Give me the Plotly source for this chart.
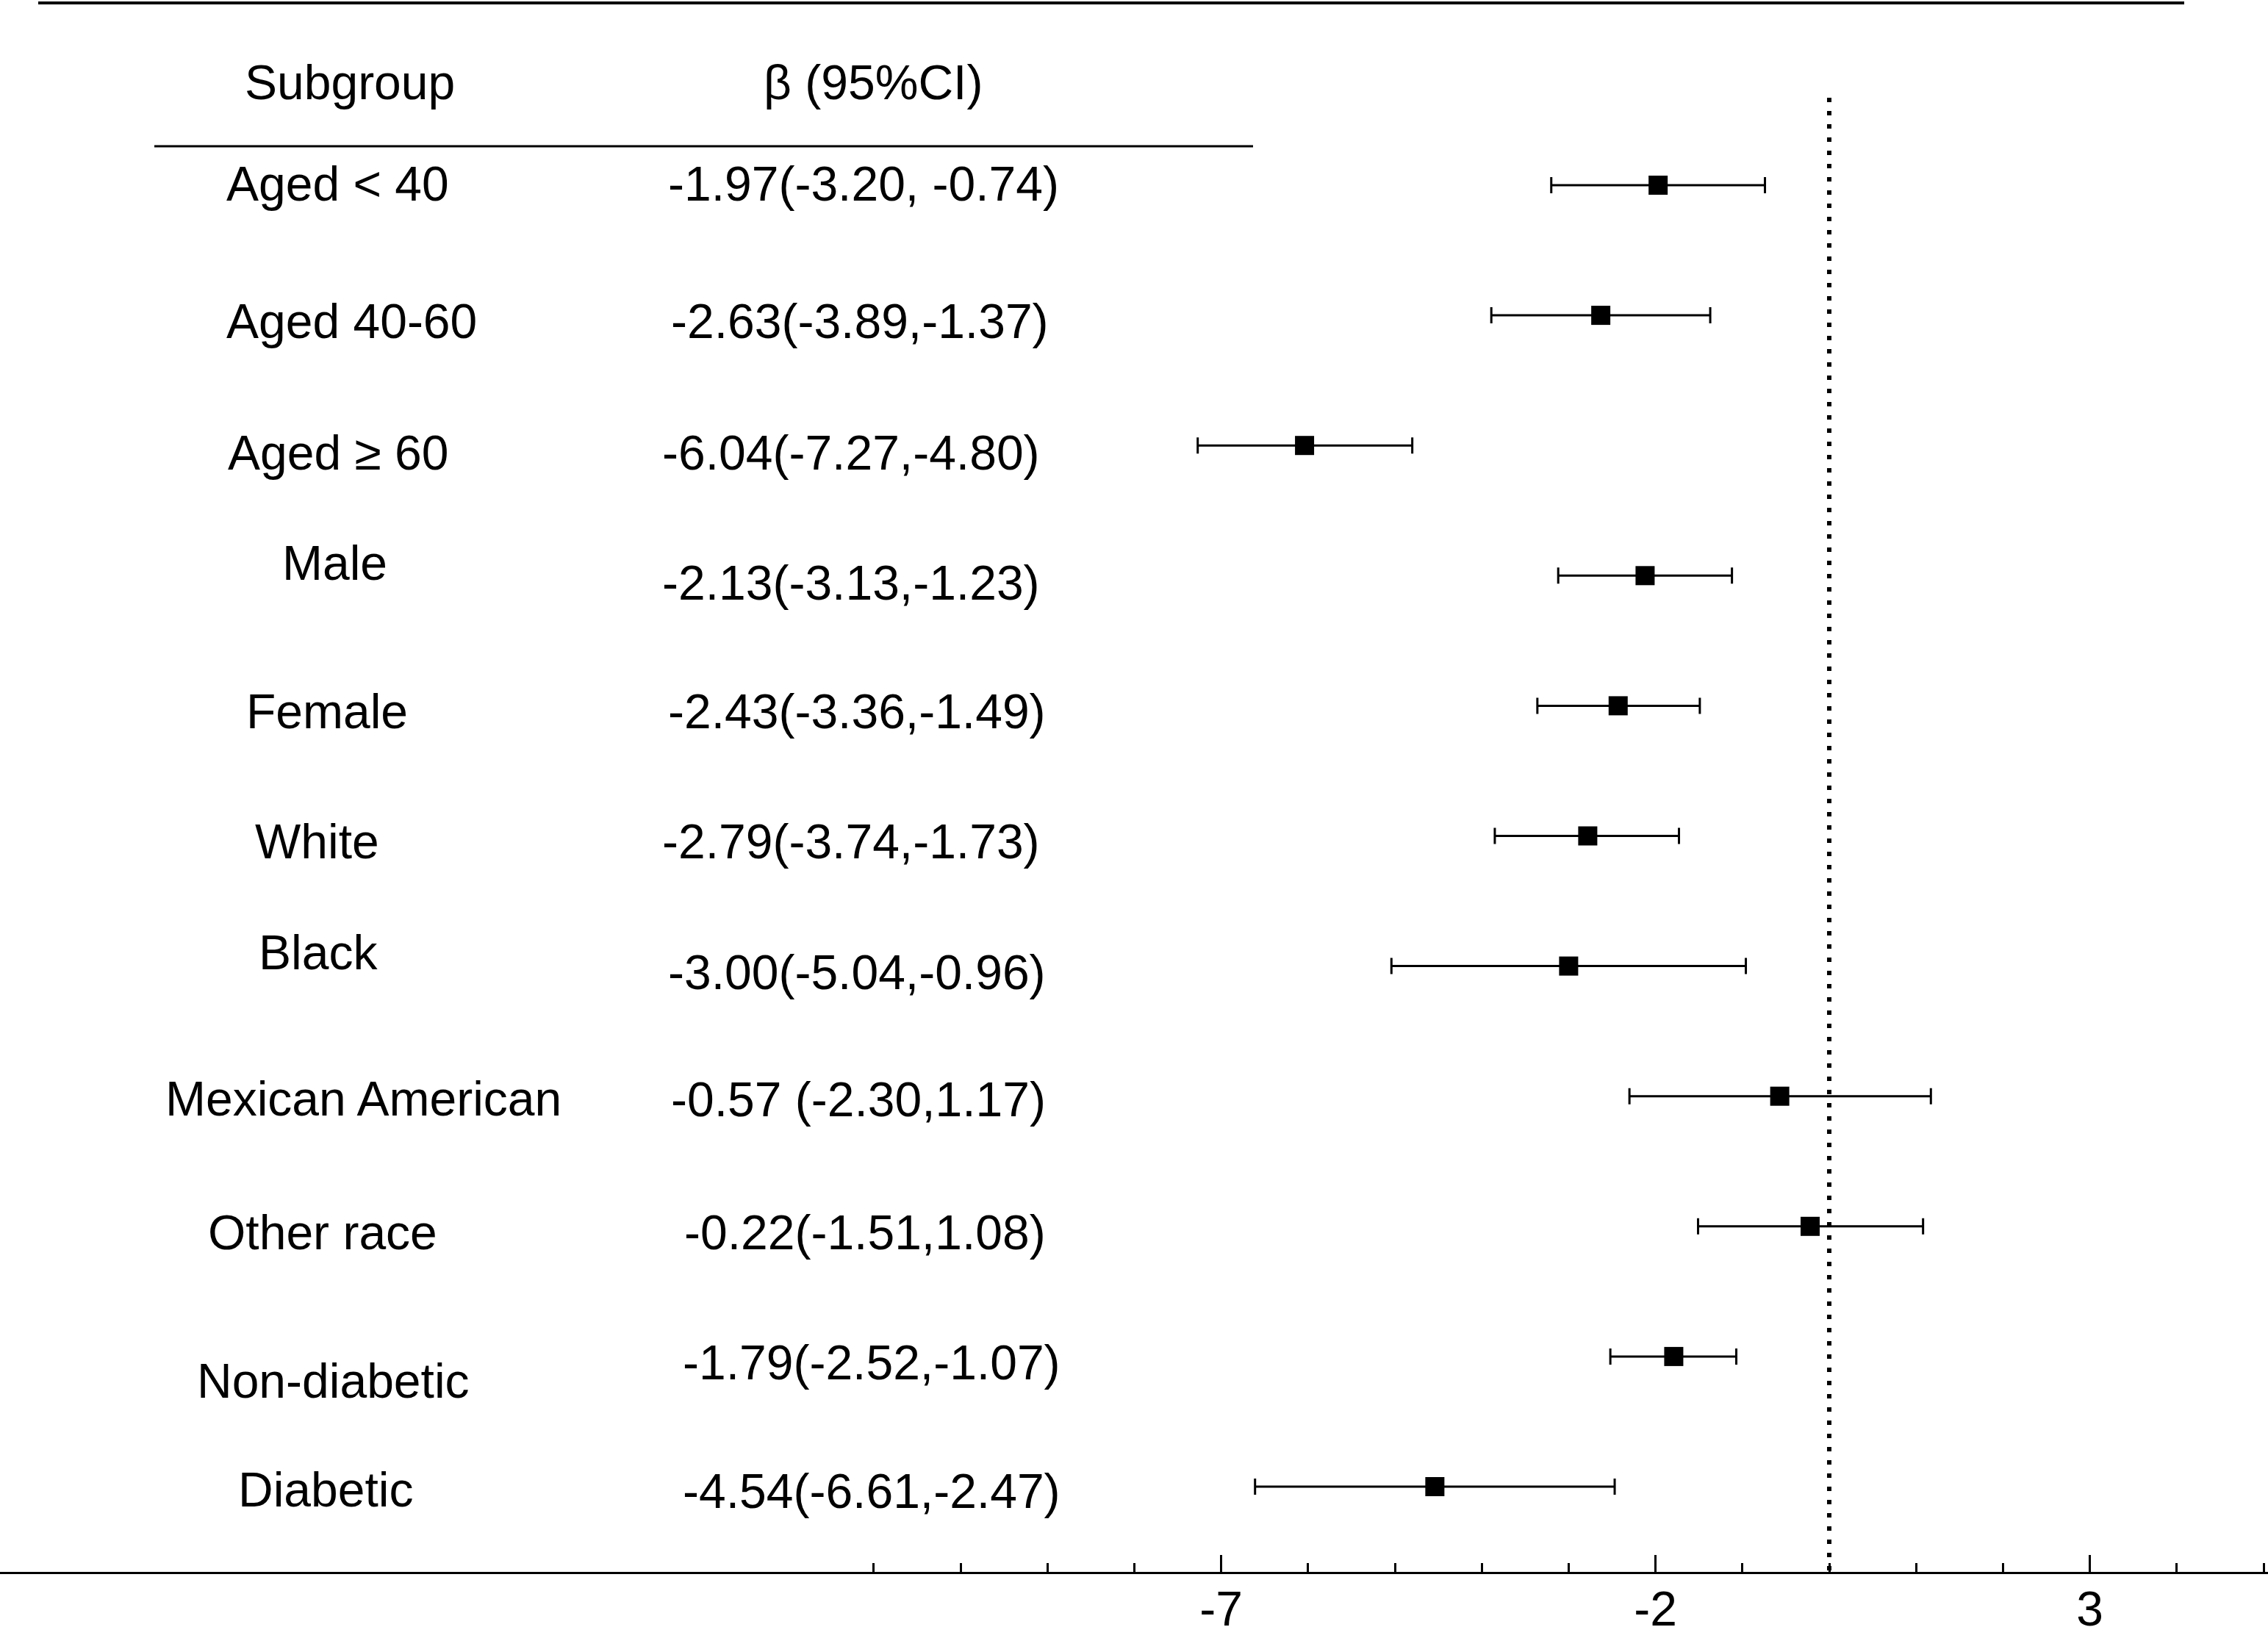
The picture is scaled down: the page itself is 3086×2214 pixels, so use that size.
import plotly.graph_objects as go

# figure size in px (same as the reference)
W, H = 3086, 2214
AXIS_Y = 2139  # px from top where the x axis sits

subgroups = ['Aged < 40', 'Aged 40-60', 'Aged \u2265 60', 'Male', 'Female', 'White', 'Black',
             'Mexican American', 'Other race', 'Non-diabetic', 'Diabetic']
beta_text = ['-1.97(-3.20, -0.74)', '-2.63(-3.89,-1.37)', '-6.04(-7.27,-4.80)', '-2.13(-3.13,-1.23)',
             '-2.43(-3.36,-1.49)', '-2.79(-3.74,-1.73)', '-3.00(-5.04,-0.96)', '-0.57 (-2.30,1.17)',
             '-0.22(-1.51,1.08)', '-1.79(-2.52,-1.07)', '-4.54(-6.61,-2.47)']
# plotted values
beta = [-1.97, -2.63, -6.04, -2.12, -2.43, -2.78, -3.00, -0.57, -0.22, -1.79, -4.54]
ci_low = [-3.20, -3.89, -7.27, -3.12, -3.36, -3.85, -5.04, -2.30, -1.51, -2.52, -6.61]
ci_high = [-0.74, -1.37, -4.80, -1.12, -1.49, -1.73, -0.96, 1.17, 1.08, -1.07, -2.47]

major_ticks = [-7, -2, 3]
major_labels = ['-7', '-2', '3']
minor_ticks = [-11, -10, -9, -8, -6, -5, -4, -3, -1, 0, 1, 2, 4, 5]

# text placement (px in the picture) - the table is not perfectly aligned
label_x = [459, 478, 460, 455, 445, 431, 433, 494, 439, 453, 443]
label_y = [250, 437, 616, 766, 968, 1145, 1296, 1495, 1677, 1879, 2027]
value_x = [907, 911, 899, 899, 907, 899, 907, 911, 929, 927, 927]
value_y = [250, 437, 616, 793, 968, 1145, 1323, 1496, 1677, 1854, 2029]

FONT = 'Liberation Sans, Arial, sans-serif'
FS = 66

rows = list(range(len(subgroups)))
ROW0, ROW_STEP = 252, 177.1
ZERO_PX, UNIT_PX = 2489, 118.2


def px_x(p):
    return p / W


def px_y(p):
    return (AXIS_Y - p) / AXIS_Y


fig = go.Figure()
fig.add_trace(go.Scatter(
    x=beta, y=rows, mode='markers',
    marker=dict(symbol='square', size=26, color='black'),
    error_x=dict(type='data', symmetric=False,
                 array=[h - b for h, b in zip(ci_high, beta)],
                 arrayminus=[b - l for b, l in zip(beta, ci_low)],
                 color='black', thickness=3, width=11),
    showlegend=False, hoverinfo='skip'
))

annotations = []
annotations.append(dict(x=px_x(476), y=px_y(112), xref='paper', yref='paper', text='Subgroup',
                        showarrow=False, xanchor='center', yanchor='middle'))
annotations.append(dict(x=px_x(1188), y=px_y(112), xref='paper', yref='paper', text='\u03b2 (95%CI)',
                        showarrow=False, xanchor='center', yanchor='middle'))
for i in rows:
    annotations.append(dict(x=px_x(label_x[i]), y=px_y(label_y[i]), xref='paper', yref='paper',
                            text=subgroups[i], showarrow=False, xanchor='center', yanchor='middle'))
    annotations.append(dict(x=px_x(value_x[i]), y=px_y(value_y[i]), xref='paper', yref='paper',
                            text=beta_text[i], showarrow=False, xanchor='left', yanchor='middle'))

shapes = [
    # top rule
    dict(type='line', xref='paper', yref='paper', x0=px_x(52), x1=px_x(2972), y0=px_y(4), y1=px_y(4),
         line=dict(color='black', width=4)),
    # rule under header
    dict(type='line', xref='paper', yref='paper', x0=px_x(210), x1=px_x(1705), y0=px_y(199), y1=px_y(199),
         line=dict(color='black', width=3)),
    # null line at 0
    dict(type='line', xref='x', yref='y', x0=0, x1=0, y0=(133 - ROW0) / ROW_STEP, y1=(AXIS_Y - ROW0) / ROW_STEP,
         line=dict(color='black', width=6, dash='6px,12px')),
]

fig.update_layout(
    width=W, height=H,
    margin=dict(l=0, r=0, t=0, b=H - AXIS_Y, pad=0),
    paper_bgcolor='white', plot_bgcolor='white',
    font=dict(family=FONT, size=FS, color='black'),
    annotations=annotations, shapes=shapes,
)
fig.update_xaxes(
    range=[(0 - ZERO_PX) / UNIT_PX, (W - ZERO_PX) / UNIT_PX],
    showgrid=False, zeroline=False, showline=True, linecolor='black', linewidth=3,
    tickmode='array', tickvals=major_ticks, ticktext=major_labels,
    ticks='inside', ticklen=23, tickwidth=3, tickcolor='black',
    tickfont=dict(family=FONT, size=FS, color='black'), ticklabelstandoff=-9,
    minor=dict(tickmode='array', tickvals=minor_ticks, ticks='inside', ticklen=12, tickwidth=3, tickcolor='black'),
    automargin=False, fixedrange=True,
)
fig.update_yaxes(
    range=[(AXIS_Y - ROW0) / ROW_STEP, (0 - ROW0) / ROW_STEP],
    visible=False, showgrid=False, zeroline=False, automargin=False, fixedrange=True,
)

# no page margin so the figure sits at the window's corner
fig.write_html('out.html', config={'displayModeBar': False},
               post_script="document.body.style.margin='0';document.body.style.overflow='hidden';")
